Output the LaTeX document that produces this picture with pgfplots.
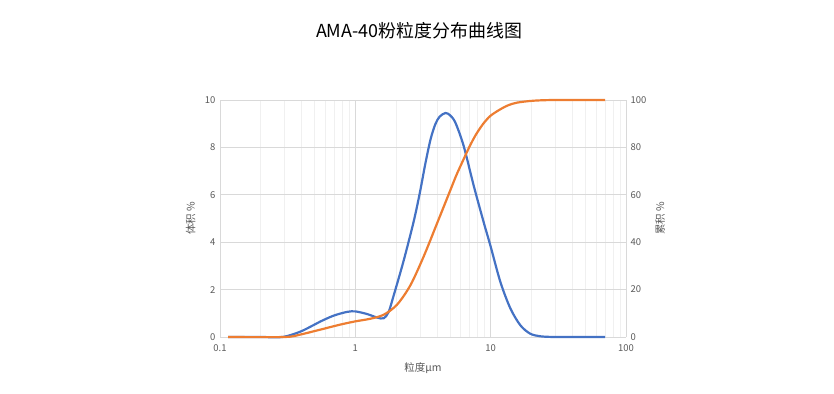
\documentclass[border=0pt]{standalone}
\usepackage{fontspec}
\setmainfont{Noto Sans CJK SC}
\usepackage{pgfplots}
\pgfplotsset{compat=1.18}
\definecolor{cblue}{HTML}{4472C4}
\definecolor{corange}{HTML}{ED7D31}
\definecolor{cgrid}{HTML}{D9D9D9}
\definecolor{cminor}{HTML}{F0F0F0}
\definecolor{ctext}{HTML}{595959}
\begin{document}
\begin{tikzpicture}[x=1bp,y=1bp]
\useasboundingbox (0,0) rectangle (834,393);
\node[font=\fontsize{18}{21}\selectfont, text=black] at (419,362) {AMA-40粉粒度分布曲线图};
\begin{axis}[
  at={(220bp,56bp)}, anchor=south west,
  scale only axis, width=406bp, height=237bp,
  xmode=log, xmin=0.1, xmax=100,
  ymin=0, ymax=10, ytick={0,2,4,6,8,10},
  xtick={0.1,1,10,100}, xticklabels={0.1,1,10,100},
  minor xtick={0.2,0.3,0.4,0.5,0.6,0.7,0.8,0.9,2,3,4,5,6,7,8,9,20,30,40,50,60,70,80,90},
  xmajorgrids, xminorgrids, ymajorgrids,
  major grid style={cgrid, line width=0.7pt},
  minor grid style={cminor, line width=0.6pt},
  axis line style={cgrid, line width=0.8pt},
  axis y line*=left, axis x line*=bottom,
  major tick length=0pt, minor tick length=0pt,
  tick label style={font=\fontsize{9.5}{11}\selectfont, text=ctext},
  /pgf/number format/assume math mode=true,
  xlabel={粒度μm}, ylabel={体积 \%},
  label style={font=\fontsize{10.5}{12}\selectfont, text=ctext},
  xlabel style={at={(axis description cs:0.5,-0.13)}, anchor=center},
  ylabel style={at={(axis description cs:-0.072,0.5)}, anchor=center},
  xticklabel style={yshift=-4bp},
  yticklabel style={xshift=-1bp},
  clip=false,
]
\addplot[cblue, line width=2.2pt, smooth, tension=0.5] coordinates {
(0.115,0) (0.2,0) (0.29,0) (0.39,0.22) (0.49,0.5) (0.55,0.65) (0.69,0.9) (0.87,1.06) (1.0,1.08) (1.22,0.97) (1.45,0.82) (1.62,0.79) (1.76,1.05) (1.92,1.75) (2.27,3.2) (2.7,4.88) (3.0,6.1) (3.3,7.35) (3.6,8.35) (3.9,8.98) (4.2,9.3) (4.63,9.45) (5.0,9.36) (5.48,9.05) (6.31,8.07) (7.49,6.39) (8.87,4.85) (9.95,3.86) (11.8,2.32) (14,1.2) (16.6,0.49) (19.6,0.14) (23.3,0.03) (30,0) (50,0) (70,0)
};
\end{axis}
\begin{axis}[
  at={(220bp,56bp)}, anchor=south west,
  scale only axis, width=406bp, height=237bp,
  xmode=log, xmin=0.1, xmax=100,
  ymin=0, ymax=100, ytick={0,20,40,60,80,100},
  axis x line=none, axis y line*=right,
  axis line style={draw=none},
  major tick length=0pt,
  tick label style={font=\fontsize{9.5}{11}\selectfont, text=ctext},
  /pgf/number format/assume math mode=true,
  yticklabel style={xshift=1bp},
  ylabel={累积 \%},
  label style={font=\fontsize{10.5}{12}\selectfont, text=ctext},
  ylabel style={at={(axis description cs:1.084,0.5)}, anchor=center, rotate=0},
  clip=false,
]
\addplot[corange, line width=2.2pt, smooth, tension=0.5] coordinates {
(0.115,0) (0.3,0) (0.39,1) (0.55,3.1) (0.77,5.2) (1.0,6.6) (1.29,7.7) (1.62,9.4) (2.03,13.6) (2.55,21.8) (3.2,34) (4.02,48) (5.04,62) (5.6,68.5) (6.31,75) (7.0,80.5) (7.8,85.5) (8.87,90.2) (10,93.4) (11.8,96.1) (13.5,97.8) (15.7,98.9) (20.7,99.7) (30,100) (70,100)
};
\end{axis}
\end{tikzpicture}
\end{document}
